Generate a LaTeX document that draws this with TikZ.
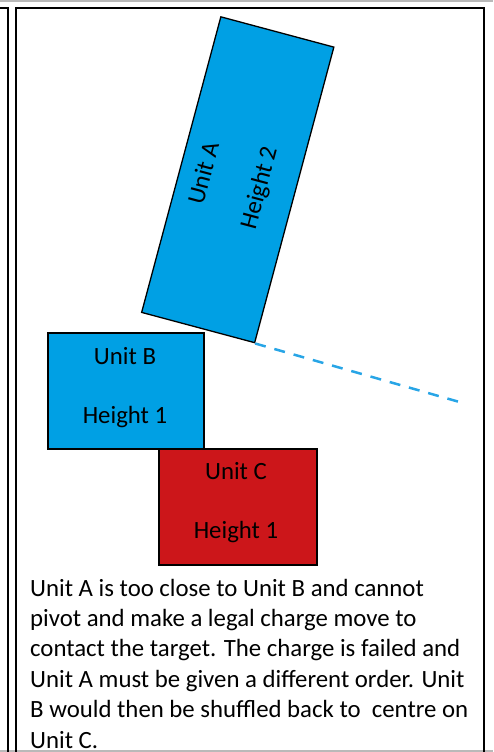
\documentclass[tikz,border=0pt]{standalone}
\usepackage{fontspec}
\setmainfont{Carlito}
\definecolor{unitblue}{RGB}{0,160,228}
\definecolor{dashblue}{RGB}{40,165,230}
\definecolor{unitred}{RGB}{204,22,26}
\definecolor{framegray}{RGB}{185,185,185}
\tikzset{
  unitbox/.style={draw=black, line width=1.3pt, inner sep=0pt},
  boxlabel/.style={inner sep=0pt, font=\fontsize{24.8}{24.8}\selectfont},
  framestroke/.style={draw=black, line width=2pt},
}
\begin{document}
\begin{tikzpicture}[x=1pt,y=-1pt]
\useasboundingbox (0,0) rectangle (493,752);
% frame lines
\draw[framegray, line width=1.5pt] (0,1) -- (493,1);
\draw[framegray, line width=1.5pt] (0,751) -- (493,751);
\draw[framestroke] (0,8) -- (8,8) -- (8,752);
\draw[framestroke] (16,752) -- (16,8) -- (484,8) -- (484,752);
% Unit A
\node[unitbox, fill=unitblue, rotate=-15, minimum width=117pt, minimum height=306pt] (A) at (237.75,179.75) {};
\node[boxlabel, rotate=75] (Alab) at (203,173) {Unit A};
\node[boxlabel, rotate=75] (Ahgt) at (260,188) {Height 2};
% Unit B
\node[unitbox, fill=unitblue, minimum width=156pt, minimum height=116pt] (B) at (126,391) {};
\node[boxlabel] (Blab) at (125,356) {Unit B};
\node[boxlabel] (Bhgt) at (125,417) {Height 1};
% Unit C
\node[unitbox, fill=unitred, minimum width=158pt, minimum height=116pt] (C) at (238,507) {};
\node[boxlabel] (Clab) at (236,471) {Unit C};
\node[boxlabel] (Chgt) at (236,532) {Height 1};
% dashed line
\coordinate (dashend) at (463,403);
\draw[dashblue, line width=2.5pt, dash pattern=on 11pt off 9pt] (A.south east) -- (dashend);
% caption
\node[anchor=base west, align=left, inner sep=0pt, font=\fontsize{24.8}{30.4}\selectfont] (txt) at (30,748)
{Unit A is too close to Unit B and cannot\\
pivot and make a legal charge move to\\
contact the target. The charge is failed and\\
Unit A must be given a different order. Unit\\
B would then be shuffled back to\ \ centre on\\
Unit C.};
\end{tikzpicture}
\end{document}
